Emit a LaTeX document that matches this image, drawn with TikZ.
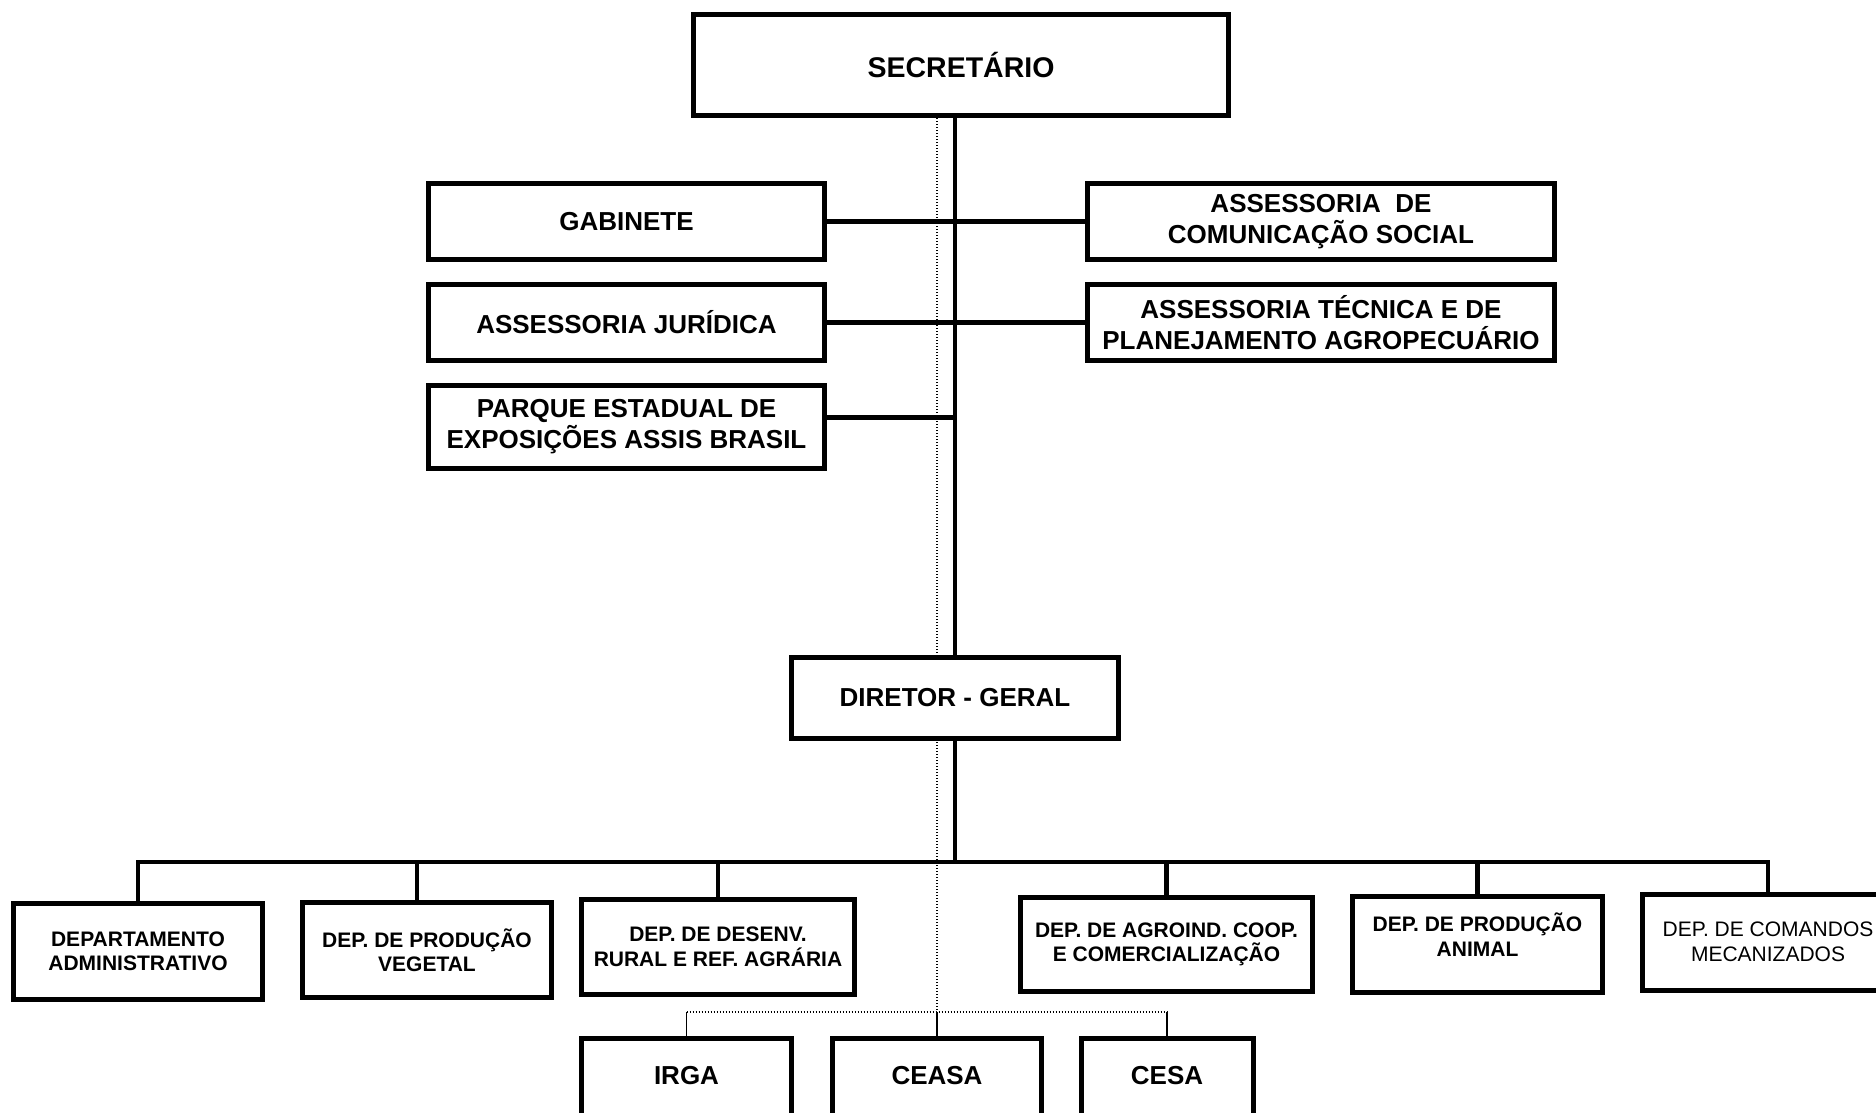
\documentclass[tikz,border=0pt]{standalone}
\usepackage{fontspec}
\setmainfont{Liberation Sans}
\usetikzlibrary{backgrounds}

\begin{document}
\begin{tikzpicture}[x=1pt, y=-1pt,
    box/.style={draw, line width=5pt, fill=white, inner sep=0pt, align=center,
        font=\bfseries\fontsize{26}{31}\selectfont},
    dep/.style={box, font=\bfseries\fontsize{21}{24.5}\selectfont},
    sub/.style={box, anchor=north, text height=46pt, text depth=100pt},
    link/.style={line width=4.5pt},
    sublink/.style={line width=1.6pt},
    dotline/.style={line width=1.2pt, dash pattern=on 1.2pt off 1.8pt}]
    \useasboundingbox (0, 0) rectangle (1876, 1112);
    \clip (0, 0) rectangle (1876, 1112);

    % secretario e assessorias
    \node[box, minimum width=535, minimum height=101,
        font=\bfseries\fontsize{28.5}{33}\selectfont] (sec) at (961, 65) {SECRETÁRIO};
    \node[box, minimum width=396, minimum height=76] (gab) at (626.5, 221.5) {GABINETE};
    \node[box, minimum width=396, minimum height=76] (jur) at (626.5, 322.5) {ASSESSORIA JURÍDICA};
    \node[box, minimum width=396, minimum height=83] (parque) at (626.5, 427) {PARQUE ESTADUAL DE\\EXPOSIÇÕES ASSIS BRASIL};
    \node[box, minimum width=467, minimum height=76] (acs) at (1321, 221.5) {ASSESSORIA~~DE\\COMUNICAÇÃO SOCIAL};
    \node[box, minimum width=467, minimum height=76] (atp) at (1321, 322.5) {ASSESSORIA TÉCNICA E DE\\PLANEJAMENTO AGROPECUÁRIO};
    \node[box, minimum width=327, minimum height=81] (dir) at (955, 698) {DIRETOR - GERAL};

    % departamentos
    \node[dep, minimum width=249, minimum height=96] (adm) at (138, 951.5) {DEPARTAMENTO\\ADMINISTRATIVO};
    \node[dep, minimum width=249, minimum height=95] (veg) at (427, 950) {DEP. DE PRODUÇÃO\\VEGETAL};
    \node[dep, minimum width=273, minimum height=95] (rur) at (718, 947) {DEP. DE DESENV.\\RURAL E REF. AGRÁRIA};
    \node[dep, minimum width=292, minimum height=94] (agro) at (1166.5, 944.5) {DEP. DE AGROIND. COOP.\\E COMERCIALIZAÇÃO};
    \node[dep, minimum width=250, minimum height=96, text depth=20pt] (ani) at (1477.5, 944.5) {DEP. DE PRODUÇÃO\\ANIMAL};
    \node[dep, minimum width=251, minimum height=96,
        font=\fontsize{21}{24.5}\selectfont] (mec) at (1768, 942) {DEP. DE COMANDOS\\MECANIZADOS};

    % vinculadas
    \node[sub, minimum width=210] (irga) at (686.5, 1035.5) {IRGA};
    \node[sub, minimum width=209] (ceasa) at (937, 1035.5) {CEASA};
    \node[sub, minimum width=172] (cesa) at (1167, 1035.5) {CESA};

    \coordinate (bus) at (955, 862);
    \coordinate (fork) at (937, 1012);

    \begin{scope}[on background layer]
        \fill[white] (0, 0) rectangle (1876, 1112);
        \draw[dotline] (sec.south -| fork) -- (fork);
    \end{scope}

    \draw[link] (sec.south -| dir.north) -- (dir.north);
    \draw[link] (gab.east) -- (acs.west);
    \draw[link] (jur.east) -- (atp.west);
    \draw[link] ([yshift=9.5pt]parque.east) -- ([yshift=9.5pt]parque.east -| dir.north);

    \draw[link] (dir.south) -- (dir.south |- bus);
    \draw[link] (adm.north) -- (adm.north |- bus) -- (mec.north |- bus) -- (mec.north);
    \foreach \n in {rur, agro, ani}
        \draw[link] (\n.north) -- (\n.north |- bus);
    \draw[link] ([xshift=-10pt]veg.north) -- ([xshift=-10pt]veg.north |- bus);

    \draw[dotline] (irga.north |- fork) -- (cesa.north |- fork);
    \foreach \n in {irga, ceasa, cesa}
        \draw[sublink] (\n.north |- fork) -- (\n.north);
\end{tikzpicture}
\end{document}
